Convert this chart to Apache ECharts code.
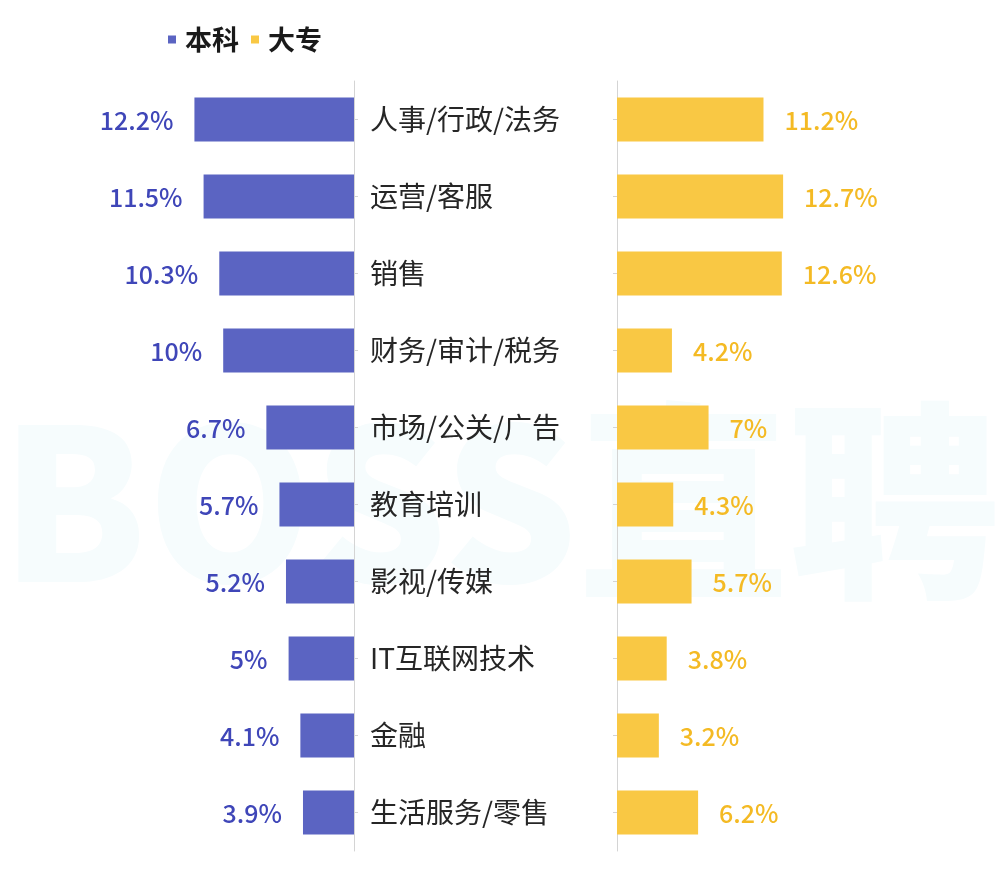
<!DOCTYPE html>
<html>
<head>
<meta charset="utf-8">
<script src="https://cdn.jsdelivr.net/npm/echarts@6/dist/echarts.min.js"></script>
<style>
html,body{margin:0;padding:0;background:#fff;}
#chart{width:1000px;height:887px;}
</style>
</head>
<body>
<div id="chart"></div>
<script>
var categories = ['人事/行政/法务','运营/客服','销售','财务/审计/税务','市场/公关/广告','教育培训','影视/传媒','IT互联网技术','金融','生活服务/零售'];
var benke = [12.2, 11.5, 10.3, 10, 6.7, 5.7, 5.2, 5, 4.1, 3.9];
var dazhuan = [11.2, 12.7, 12.6, 4.2, 7, 4.3, 5.7, 3.8, 3.2, 6.2];
var seriesNames = ['本科', '大专'];

var FONT = '"Noto Sans CJK SC", "Noto Sans", sans-serif';
var chart = echarts.init(document.getElementById('chart'));
chart.setOption({
  backgroundColor: '#ffffff',
  animation: false,
  graphic: [{
    type: 'text',
    left: 'center',
    top: 396,
    z: 0,
    silent: true,
    style: {
      text: 'BOSS直聘',
      font: '900 211px ' + FONT,
      fill: '#F6FCFD'
    }
  }],
  legend: {
    left: 163,
    top: 21,
    icon: 'rect',
    itemWidth: 8,
    itemHeight: 8,
    itemGap: 12,
    data: seriesNames,
    textStyle: {
      fontFamily: FONT,
      fontSize: 27,
      fontWeight: 'bold',
      color: '#1a1a1a',
      padding: [0, 0, 0, 4]
    }
  },
  grid: [
    {left: 157.8, width: 196.2, top: 81, height: 770, containLabel: false},
    {left: 617, width: 196.2, top: 81, height: 770, containLabel: false}
  ],
  xAxis: [
    {gridIndex: 0, type: 'value', min: 0, max: 15, inverse: true, show: false},
    {gridIndex: 1, type: 'value', min: 0, max: 15, show: false}
  ],
  yAxis: [
    {
      gridIndex: 0, type: 'category', data: categories, inverse: true, position: 'right',
      axisLine: {show: true, lineStyle: {color: '#d4d4d4', width: 1}},
      axisTick: {show: true, length: 4, alignWithLabel: true, lineStyle: {color: '#d4d4d4'}},
      axisLabel: {show: true, margin: 16, fontFamily: FONT, fontSize: 28, color: '#262626', align: 'left'}
    },
    {
      gridIndex: 1, type: 'category', data: categories, inverse: true, position: 'left',
      axisLine: {show: true, lineStyle: {color: '#d4d4d4', width: 1}},
      axisTick: {show: true, length: 4, alignWithLabel: true, lineStyle: {color: '#d4d4d4'}},
      axisLabel: {show: false}
    }
  ],
  series: [
    {
      name: seriesNames[0], type: 'bar', xAxisIndex: 0, yAxisIndex: 0,
      data: benke, barWidth: 44, z: 2,
      itemStyle: {color: '#5B64C2'},
      label: {show: true, position: 'left', distance: 21, formatter: '{c}%',
        fontFamily: FONT, fontSize: 25, fontWeight: 500, color: '#3F46B8', offset: [0, 1]}
    },
    {
      name: seriesNames[1], type: 'bar', xAxisIndex: 1, yAxisIndex: 1,
      data: dazhuan, barWidth: 44, z: 2,
      itemStyle: {color: '#F9C844'},
      label: {show: true, position: 'right', distance: 21, formatter: '{c}%',
        fontFamily: FONT, fontSize: 25, fontWeight: 500, color: '#F4BA24', offset: [0, 1]}
    }
  ]
});
</script>
</body>
</html>
